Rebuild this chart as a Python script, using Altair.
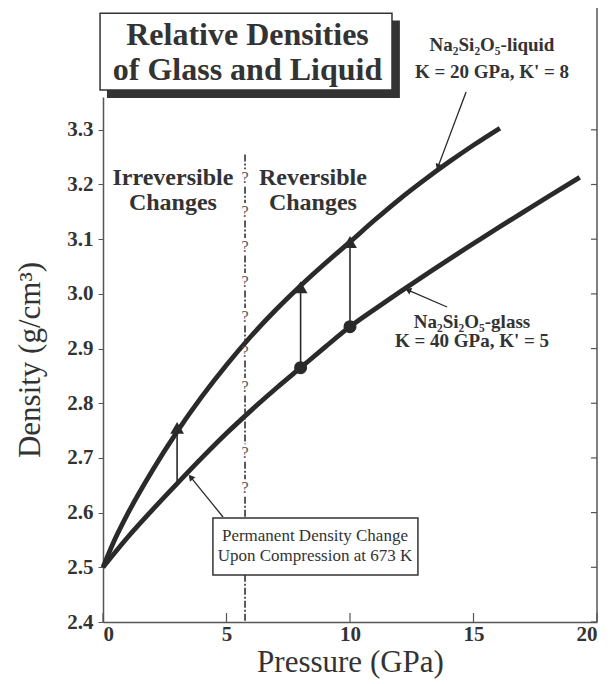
import altair as alt
import pandas as pd

# ---------------- data ----------------
liquid_p = [0, 0.5, 1, 2, 3, 4, 5, 6, 7, 8, 9, 10, 11, 12, 13, 14, 15, 16.07]
liquid_rho = [2.50, 2.553, 2.598, 2.677, 2.748, 2.812, 2.870, 2.923, 2.971, 3.015,
              3.056, 3.095, 3.135, 3.173, 3.208, 3.241, 3.272, 3.303]
glass_p = [0, 1, 2, 3, 4, 5, 6, 7, 8, 9, 10, 11, 12, 13, 14, 15, 16, 17, 18, 19.3]
glass_rho = [2.50, 2.555, 2.605, 2.653, 2.70, 2.745, 2.787, 2.827, 2.865, 2.903,
             2.94, 2.972, 3.003, 3.033, 3.063, 3.092, 3.121, 3.149, 3.177, 3.213]

arrow_p = [3, 8, 10]
arrow_from = [2.653, 2.865, 2.94]
arrow_to = [2.755, 3.012, 3.095]
dot_p = [8, 10]
dot_rho = [2.865, 2.94]

x_ticks = [0, 5, 10, 15, 20]
y_ticks = [2.4, 2.5, 2.6, 2.7, 2.8, 2.9, 3.0, 3.1, 3.2, 3.3]

boundary_p = 5.75
boundary_top = 3.255
question_y = [3.212, 3.150, 3.086, 3.022, 2.958, 2.894, 2.830, 2.709, 2.645]

title_lines = ["Relative Densities", "of Glass and Liquid"]
regime_left = ["Irreversible", "Changes"]
regime_right = ["Reversible", "Changes"]
liquid_label = ["Na₂Si₂O₅-liquid", "K = 20 GPa, K' = 8"]
glass_label = ["Na₂Si₂O₅-glass", "K = 40 GPa, K' = 5"]
box_label = ["Permanent Density Change", "Upon Compression at 673 K"]

W, H = 494, 525
FONT = "Liberation Serif"
INK = "#2a2a2a"
TXT = "#333333"

xs = alt.Scale(domain=[0, 20], nice=False, zero=False)
ys = alt.Scale(domain=[2.4, 3.36], nice=False, zero=False)

x_axis = alt.Axis(
    values=x_ticks, title="Pressure (GPa)", grid=False, ticks=False,
    labelFont=FONT, labelFontWeight="bold", labelFontSize=21, labelColor=TXT,
    labelPadding=1, domainColor="#555", domainWidth=1.5,
    titleFont=FONT, titleFontWeight="normal", titleFontSize=31, titleColor=TXT,
    titlePadding=3)
y_axis = alt.Axis(
    values=y_ticks, format=".1f", title="Density (g/cm³)", grid=False,
    tickSize=5, tickColor="#555", labelFont=FONT, labelFontWeight="bold",
    labelFontSize=21, labelColor=TXT, labelPadding=5, domainColor="#555",
    domainWidth=1.5, titleFont=FONT, titleFontWeight="normal", titleFontSize=31,
    titleColor=TXT, titlePadding=20)


def X(f="x"):
    return alt.X(f"{f}:Q", scale=xs, axis=x_axis)


def Y(f="y"):
    return alt.Y(f"{f}:Q", scale=ys, axis=y_axis)


curves = pd.DataFrame(
    {"x": liquid_p + glass_p, "y": liquid_rho + glass_rho,
     "s": ["liquid"] * len(liquid_p) + ["glass"] * len(glass_p)})

lines = alt.Chart(curves).mark_line(strokeWidth=4.8, color=INK, interpolate="monotone").encode(
    x=X(), y=Y(), detail="s:N")

# inward x ticks
xt = alt.Chart(pd.DataFrame({"x": x_ticks})).mark_rule(color="#555", strokeWidth=1.2).encode(
    x=X(), y=alt.value(H), y2=alt.value(H - 9))
# right frame line and its inward ticks
rframe = alt.Chart(pd.DataFrame({"a": [0]})).mark_rule(color="#555", strokeWidth=1.5).encode(
    x=alt.value(W), y=alt.value(-89), y2=alt.value(H))
rt = alt.Chart(pd.DataFrame({"y": y_ticks})).mark_rule(color="#555", strokeWidth=1.2).encode(
    y=Y(), x=alt.value(W), x2=alt.value(W - 6))

# boundary line: dash-dot segments between the question marks
gap = 0.016
stops = [boundary_top + gap] + question_y + [2.4 - gap]
seg = pd.DataFrame({
    "x": [boundary_p] * (len(stops) - 1),
    "y": [a - gap for a in stops[:-1]],
    "y2": [b + gap for b in stops[1:]],
})
bline = alt.Chart(seg).mark_rule(color="#333", strokeWidth=1.6, strokeDash=[7, 2, 2, 2]).encode(
    x=X(), y=Y(), y2="y2:Q")
qdf = pd.DataFrame({"x": [boundary_p] * len(question_y), "y": question_y,
                    "t": ["?"] * len(question_y)})
qm = alt.Chart(qdf).mark_text(font=FONT, fontSize=16, color="#555555", align="center",
                              baseline="middle").encode(x=X(), y=Y(), text="t:N")

# vertical arrows
arr = pd.DataFrame({"x": arrow_p, "y": arrow_from, "y2": arrow_to})
arrows = alt.Chart(arr).mark_rule(color=INK, strokeWidth=1.6).encode(x=X(), y=Y(), y2="y2:Q")
heads = alt.Chart(arr).mark_point(shape="triangle-up", size=190, filled=True, opacity=1, color=INK).encode(
    x=X(), y=Y("y2"))
dots = alt.Chart(pd.DataFrame({"x": dot_p, "y": dot_rho})).mark_circle(size=170, opacity=1, color=INK).encode(
    x=X(), y=Y())

# pointer lines
ptr = pd.DataFrame({
    "x": [14.70, 13.93, 4.86], "y": [3.369, 2.976, 2.592],
    "x2": [13.56, 12.35, 3.55], "y2": [3.232, 3.007, 2.665],
    "ang": [200.5, 293.6, 320.0]})
ptr_lines = alt.Chart(ptr).mark_rule(color=INK, strokeWidth=1.3).encode(
    x=X(), y=Y(), x2="x2:Q", y2="y2:Q")
ptr_heads = alt.Chart(ptr).mark_point(shape="triangle-up", size=50, filled=True, opacity=1, color=INK).encode(
    x=X("x2"), y=Y("y2"), angle=alt.Angle("ang:Q", scale=None))

# title box with shadow
shadow = alt.Chart(pd.DataFrame({"x": [0.16], "x2": [12.02], "y": [3.500], "y2": [3.358]})).mark_rect(
    color="#333").encode(x=X(), x2="x2:Q", y=Y(), y2="y2:Q")
tbox = alt.Chart(pd.DataFrame({"x": [-0.12], "x2": [11.70], "y": [3.513], "y2": [3.373]})).mark_rect(
    fill="white", stroke="#333", strokeWidth=1.5).encode(x=X(), x2="x2:Q", y=Y(), y2="y2:Q")
ttext = alt.Chart(pd.DataFrame({"x": [5.85, 5.85], "y": [3.474, 3.410], "t": title_lines})).mark_text(
    font=FONT, fontWeight="bold", fontSize=32, color=TXT, align="center", baseline="middle").encode(
    x=X(), y=Y(), text="t:N")

# bottom box
bbox = alt.Chart(pd.DataFrame({"x": [4.45], "x2": [12.75], "y": [2.590], "y2": [2.486]})).mark_rect(
    fill="white", stroke="#333", strokeWidth=1.5).encode(x=X(), x2="x2:Q", y=Y(), y2="y2:Q")
btext = alt.Chart(pd.DataFrame({"x": [8.58, 8.58], "y": [2.557, 2.521], "t": box_label})).mark_text(
    font=FONT, fontSize=17, color=TXT, align="center", baseline="middle").encode(
    x=X(), y=Y(), text="t:N")

# regime labels
reg = pd.DataFrame({"x": [2.83, 2.83, 8.50, 8.50], "y": [3.212, 3.166, 3.212, 3.166],
                    "t": regime_left + regime_right})
regtext = alt.Chart(reg).mark_text(font=FONT, fontWeight="bold", fontSize=24, color=TXT,
                                   align="center", baseline="middle").encode(x=X(), y=Y(), text="t:N")

# curve labels
cl = pd.DataFrame({"x": [15.75, 15.75, 14.94, 14.94], "y": [3.455, 3.406, 2.948, 2.913],
                   "t": liquid_label + glass_label})
cltext = alt.Chart(cl).mark_text(font=FONT, fontWeight="bold", fontSize=19, color=TXT,
                                 align="center", baseline="middle").encode(x=X(), y=Y(), text="t:N")

chart = alt.layer(
    lines, xt, rframe, rt, bline, qm, arrows, heads, dots, ptr_lines, ptr_heads,
    shadow, tbox, ttext, bbox, btext, regtext, cltext
).properties(
    width=W, height=H,
    autosize=alt.AutoSizeParams(type="none"),
    padding={"left": 95, "top": 89, "right": 11, "bottom": 60},
    background="white",
).configure_view(stroke=None)

chart.save("out.html", embed_options={"renderer": "svg", "actions": False})
